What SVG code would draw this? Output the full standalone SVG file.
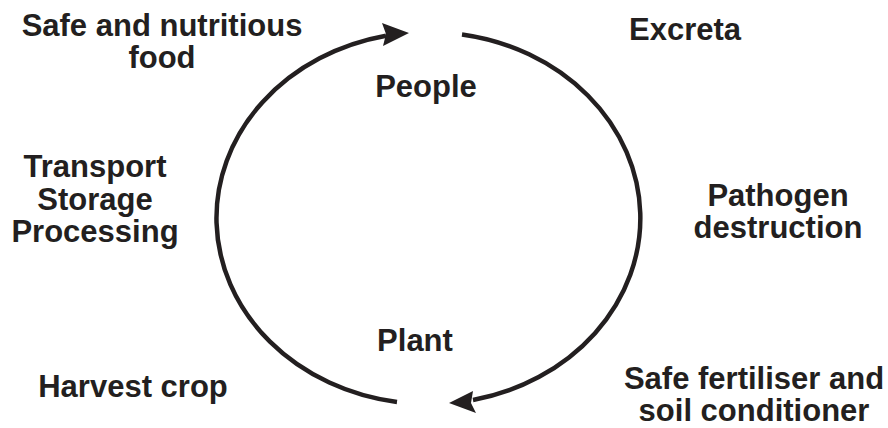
<svg xmlns="http://www.w3.org/2000/svg" width="888" height="428" viewBox="0 0 888 428">
<style>
text{font-family:"Liberation Sans",Arial,sans-serif;font-weight:bold;font-size:31px;fill:#231f20;text-anchor:middle}
.arc{fill:none;stroke:#231f20;stroke-width:4.5;stroke-linecap:butt}
.head{fill:#231f20}
</style>
<rect width="888" height="428" fill="#fff"/>
<g id="connectors">
<path class="arc" d="M397,402 A211.5,186 0 0 1 386,35.7"/>
<polygon class="head" points="409,33 382,23 386,34 383,46"/>
<path class="arc" d="M462,34.4 A211.5,186 0 0 1 473,400"/>
<polygon class="head" points="449,403 473,391 471,403 476,413"/>
</g>
<g id="food"><text x="162" y="36">Safe and nutritious</text><text x="162" y="68">food</text></g>
<g id="excreta"><text x="685" y="40">Excreta</text></g>
<g id="people"><text x="426" y="97">People</text></g>
<g id="transport"><text x="95" y="177">Transport</text><text x="95" y="210">Storage</text><text x="95" y="242">Processing</text></g>
<g id="pathogen"><text x="778" y="206">Pathogen</text><text x="778" y="238">destruction</text></g>
<g id="plant"><text x="415" y="351">Plant</text></g>
<g id="harvest"><text x="133" y="397">Harvest crop</text></g>
<g id="fertiliser"><text x="754" y="389">Safe fertiliser and</text><text x="754" y="421">soil conditioner</text></g>
</svg>
